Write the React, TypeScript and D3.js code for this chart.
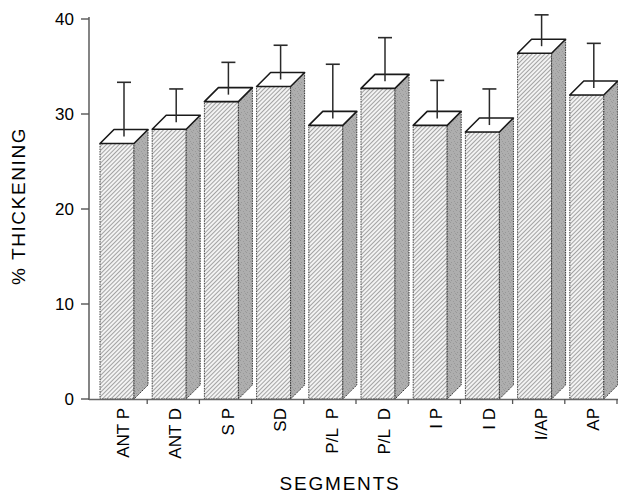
import React from "react";
import * as d3 from "d3";

const categories = ["ANT P", "ANT D", "S P", "SD", "P/L  P", "P/L  D", "I P", "I D", "I/AP", "AP"];
const means = [26.9, 28.4, 31.3, 32.9, 28.8, 32.7, 28.8, 28.1, 36.4, 32.0];
const sds = [5.7, 3.5, 3.4, 3.6, 5.7, 4.6, 4.0, 3.8, 3.3, 4.7];
const yTicks = [0, 10, 20, 30, 40];
const yTitle = "% THICKENING";
const xTitle = "SEGMENTS";

const W = 618;
const H = 493;

export default function App() {
  const x = d3.scaleBand<string>().domain(categories).range([95, 617]).paddingInner(0).paddingOuter(0);
  const y = d3.scaleLinear().domain([0, 40]).range([399, 19]);
  const bw = x.bandwidth();
  const off = 5;
  const fw = 34;
  const dx = 14;
  const dy = 14;
  const axisX = 89;
  const font = "'Liberation Sans', Arial, Helvetica, sans-serif";

  return (
    <svg width={W} height={H} style={{ position: "absolute", left: 0, top: 0, background: "#fff" }} fontFamily={font}>
      <defs>
        <pattern id="hatch" patternUnits="userSpaceOnUse" width={3} height={3} patternTransform="rotate(45)">
          <rect width={3} height={3} fill="#f3f3f3" />
          <line x1={0.5} y1={0} x2={0.5} y2={3} stroke="#9a9a9a" strokeWidth={0.9} />
        </pattern>
        <pattern id="stipple" patternUnits="userSpaceOnUse" width={6} height={6}>
          <rect width={6} height={6} fill="#aeaeae" />
          <rect x={0} y={0} width={1} height={1} fill="#989898" />
          <rect x={3} y={1} width={1} height={1} fill="#9a9a9a" />
          <rect x={1} y={4} width={1} height={1} fill="#969696" />
          <rect x={4} y={3} width={1} height={1} fill="#999" />
          <rect x={5} y={5} width={1} height={1} fill="#9b9b9b" />
        </pattern>
      </defs>

      {/* y axis */}
      <line x1={axisX} y1={17} x2={axisX} y2={400} stroke="#666" strokeWidth={1.6} />
      {yTicks.map((t) => (
        <g key={t}>
          <line x1={axisX - 8} y1={y(t)} x2={axisX} y2={y(t)} stroke="#555" strokeWidth={1.4} />
          <text x={axisX - 15} y={y(t)} dy="0.35em" textAnchor="end" fontSize={17} fill="#000">
            {t}
          </text>
        </g>
      ))}

      {/* bars */}
      {categories.map((c, i) => {
        const x0 = (x(c) as number) + off;
        const x1 = x0 + fw;
        const yt = y(means[i]);
        const yb = y(0);
        const side = `M${x1},${yt} L${x1 + dx},${yt - dy} L${x1 + dx},${yb - dy} L${x1},${yb} Z`;
        const top = `M${x0},${yt} L${x1},${yt} L${x1 + dx},${yt - dy} L${x0 + dx},${yt - dy} Z`;
        const cx = x0 + fw / 2 + dx / 2;
        const cy = yt - dy / 2;
        const capY = y(means[i] + sds[i]) - dy / 2;
        return (
          <g key={c}>
            <rect x={x0} y={yt} width={fw} height={yb - yt} fill="url(#hatch)" stroke="#444" strokeWidth={1} strokeDasharray="1.5,1" />
            <path d={side} fill="url(#stipple)" stroke="#333" strokeWidth={1} strokeDasharray="1.5,1" />
            <path d={top} fill="#fff" stroke="#1a1a1a" strokeWidth={1.6} strokeLinejoin="round" />
            <line x1={cx} y1={cy} x2={cx} y2={capY} stroke="#2a2a2a" strokeWidth={1.5} />
            <line x1={cx - 7} y1={capY} x2={cx + 7} y2={capY} stroke="#2a2a2a" strokeWidth={1.6} />
          </g>
        );
      })}

      {/* x axis */}
      <line x1={axisX} y1={399.5} x2={618} y2={399.5} stroke="#666" strokeWidth={1.6} />
      {categories.map((c) => {
        const xe = (x(c) as number) + bw;
        return <line key={"t" + c} x1={xe} y1={399} x2={xe} y2={404} stroke="#555" strokeWidth={1.3} />;
      })}
      {categories.map((c) => {
        const xc = (x(c) as number) + bw / 2;
        return (
          <text
            key={"l" + c}
            transform={`translate(${xc + 8},408) rotate(-90)`}
            textAnchor="end"
            fontSize={17}
            fill="#000"
            style={{ whiteSpace: "pre" }}
          >
            {c}
          </text>
        );
      })}

      {/* titles */}
      <text transform={`translate(25,206) rotate(-90)`} textAnchor="middle" fontSize={19} letterSpacing={1.6} fill="#000">
        {yTitle}
      </text>
      <text x={340} y={490} textAnchor="middle" fontSize={19} letterSpacing={1.8} fill="#000">
        {xTitle}
      </text>
    </svg>
  );
}
